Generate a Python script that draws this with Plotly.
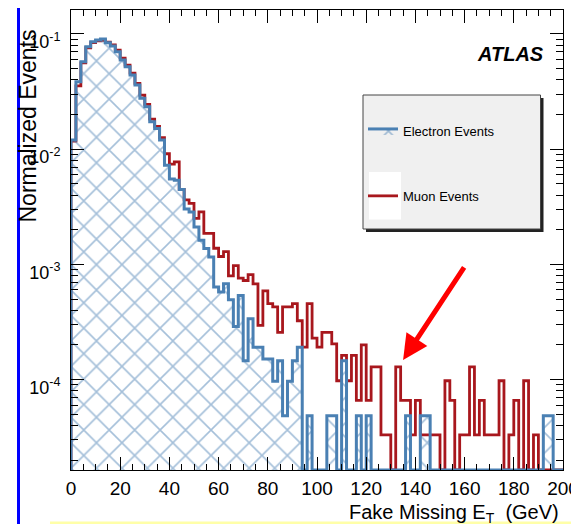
import numpy as np
import plotly.graph_objects as go

# ---------------- data ----------------
bin_width = 2.0          # GeV
x_start = 0.0

electron_events = [
    0.0120, 0.0385, 0.0575, 0.0776, 0.0857, 0.0887, 0.0906, 0.0841, 0.0787, 0.0702,
    0.0594, 0.0520, 0.0440, 0.0361, 0.0276, 0.0233, 0.0173, 0.0151, 0.0120, 0.00724,
    0.00550, 0.00537, 0.00447, 0.00302, 0.00285, 0.00211, 0.00162, 0.00137, 0.00116, 0.000635,
    0.000575, 0.000679, 0.000493, 0.000289, 0.000537, 0.000146, 0.000337, 0.000191, 0.000191, 0.000151,
    0.000151, 0.0000966, 0.000146, 0.0000486, 0.0000966, 0.000146, 0.000191, 0, 0.0000486, 0,
    0, 0, 0.0000486, 0.0000486, 0, 0.000146, 0, 0, 0.0000486, 0,
    0.0000486, 0, 0, 0, 0, 0, 0, 0, 0.0000486, 0,
    0, 0.0000486, 0.0000486, 0, 0, 0, 0, 0, 0, 0,
    0, 0, 0, 0, 0, 0, 0, 0, 0, 0,
    0, 0, 0, 0, 0, 0, 0.0000486, 0.0000486, 0, 0,
]

muon_events = [
    0.01175, 0.0355, 0.0562, 0.0759, 0.0841, 0.0871, 0.0881, 0.0851, 0.0804, 0.0724,
    0.0617, 0.0537, 0.0457, 0.0372, 0.0295, 0.0245, 0.0182, 0.0158, 0.0126, 0.00912,
    0.00741, 0.00776, 0.00447, 0.00363, 0.00339, 0.00251, 0.00285, 0.00186, 0.00186, 0.00138,
    0.00117, 0.00129, 0.000794, 0.000977, 0.000759, 0.000724, 0.000813, 0.000676, 0.000295, 0.000589,
    0.000457, 0.000427, 0.000257, 0.000427, 0.000427, 0.000457, 0.000324, 0.000191, 0.000457, 0.000229,
    0.000191, 0.000257, 0.000257, 0.000204, 0.0000977, 0.000162, 0.0000977, 0.000162, 0.0000661, 0.000200,
    0.0000661, 0.000129, 0.000129, 0.0000331, 0.0000331, 0, 0.000129, 0.0000661, 0.0000661, 0.0000331,
    0.0000661, 0.0000331, 0.0000331, 0.0000331, 0.0000331, 0, 0.0000977, 0.0000661, 0, 0.0000331,
    0.0000331, 0.000129, 0.0000331, 0.0000661, 0.0000331, 0.0000331, 0.0000331, 0.0000977, 0, 0.0000331,
    0.0000661, 0, 0.0000977, 0, 0.0000331, 0, 0, 0, 0, 0,
]

x_tick_step = 20
y_tick_vals = [1e-4, 1e-3, 1e-2, 1e-1]
y_tick_text = ["10<sup>-4</sup>", "10<sup>-3</sup>", "10<sup>-2</sup>", "10<sup>-1</sup>"]

# ---------------- layout geometry ----------------
# The HTML page places the figure 8 px from the top-left corner (body margin),
# so the figure is made 8 px smaller and margins are compensated.
PAGE_W, PAGE_H = 579, 524
OFF = 8
FIG_W, FIG_H = PAGE_W - OFF, PAGE_H - OFF
PLOT_L, PLOT_R, PLOT_T, PLOT_B = 71, 563, 10, 470     # page pixels
M_L, M_R, M_T, M_B = PLOT_L - OFF, PAGE_W - PLOT_R, PLOT_T - OFF, PAGE_H - PLOT_B
PW, PH = PLOT_R - PLOT_L, PLOT_B - PLOT_T
Y_RANGE = [-4.785, -0.792]
X_RANGE = [0, 200]


def px_x(px):
    return (px - PLOT_L) / PW


def px_y(py):
    return (PLOT_B - py) / PH


FLOOR = 10 ** Y_RANGE[0]


def step_path(vals):
    vals = np.asarray(vals, dtype=float)
    edges = x_start + bin_width * np.arange(len(vals) + 1)
    v = np.where(vals > 0, vals, FLOOR)
    xs = [edges[0]] + list(edges[:-1]) + [edges[-1], edges[-1]]
    ys = [FLOOR] + list(v) + [v[-1], FLOOR]
    return xs, ys


FONT = "Liberation Sans, Arial, Helvetica, sans-serif"
BLUE = "#4a80b3"
RED = "#a8171d"

fig = go.Figure()

mx, my = step_path(muon_events)
fig.add_trace(go.Scatter(
    x=mx, y=my, mode="lines", name="Muon Events",
    line=dict(color=RED, width=2.8, shape="hv"),
    legendgroup="mu", legendrank=2, hoverinfo="skip",
))

ex, ey = step_path(electron_events)
fig.add_trace(go.Scatter(
    x=ex, y=ey, mode="lines", name="Electron Events",
    line=dict(color=BLUE, width=3, shape="hv"),
    fill="toself", fillcolor="rgba(0,0,0,0)",
    fillpattern=dict(shape="x", fgcolor=BLUE, bgcolor="rgba(0,0,0,0)",
                     size=18, solidity=0.17),
    legendgroup="el", legendrank=1, hoverinfo="skip",
))

minor_vals = [m * 10.0 ** e for e in range(-5, 0) for m in range(2, 10)]

fig.update_xaxes(
    range=X_RANGE, tick0=0, dtick=x_tick_step, automargin=False,
    ticks="inside", ticklen=13, tickwidth=1, tickcolor="black",
    minor=dict(dtick=5, ticks="inside", ticklen=6, tickwidth=1, tickcolor="black"),
    showline=True, linecolor="black", linewidth=1, mirror="ticks",
    showgrid=False, zeroline=False,
    tickfont=dict(family=FONT, size=19, color="black"),
    ticklabelstandoff=1,
)
fig.update_yaxes(
    type="log", range=Y_RANGE, automargin=False,
    tickvals=y_tick_vals, ticktext=y_tick_text,
    ticks="inside", ticklen=13, tickwidth=1, tickcolor="black",
    minor=dict(tickvals=minor_vals, ticks="inside", ticklen=7, tickwidth=1, tickcolor="black"),
    showline=True, linecolor="black", linewidth=1, mirror="ticks",
    showgrid=False, zeroline=False,
    tickfont=dict(family=FONT, size=18, color="black"),
    ticklabelstandoff=6, ticklabelshift=8,
)

shapes = [
    # blue slide bar on the left
    dict(type="rect", xref="paper", yref="paper",
         x0=px_x(17), x1=px_x(20), y0=px_y(OFF), y1=px_y(PAGE_H),
         fillcolor="#0000ff", line=dict(width=0), layer="above"),
    # yellow strip at the bottom
    dict(type="rect", xref="paper", yref="paper",
         x0=px_x(50), x1=px_x(PAGE_W), y0=px_y(521.5), y1=px_y(PAGE_H),
         fillcolor="#ffffa8", line=dict(width=0), layer="above"),
    # legend shadow
    dict(type="rect", xref="paper", yref="paper",
         x0=px_x(366), x1=px_x(543.5), y0=px_y(232), y1=px_y(98),
         fillcolor="#222222", line=dict(width=0), layer="above"),
    # legend box
    dict(type="rect", xref="paper", yref="paper",
         x0=px_x(363), x1=px_x(540.5), y0=px_y(229), y1=px_y(95),
         fillcolor="#f0f0f0", line=dict(color="#444444", width=1), layer="above"),
    # white swatch behind muon legend line
    dict(type="rect", xref="paper", yref="paper",
         x0=px_x(369), x1=px_x(401), y0=px_y(219.5), y1=px_y(172),
         fillcolor="white", line=dict(width=0), layer="above"),
]

annotations = [
    dict(text="Normalized Events", textangle=-90, xref="paper", yref="paper",
         x=px_x(27.5), y=px_y(126), xanchor="center", yanchor="middle",
         showarrow=False, font=dict(family=FONT, size=23, color="black")),
    dict(text="Fake Missing E<sub>T</sub>  (GeV)", xref="paper", yref="paper",
         x=px_x(561), y=px_y(513), xanchor="right", yanchor="middle",
         showarrow=False, font=dict(family=FONT, size=20, color="black")),
    dict(text="<b><i>ATLAS</i></b>", xref="paper", yref="paper",
         x=px_x(510), y=px_y(54), xanchor="center", yanchor="middle",
         showarrow=False, font=dict(family=FONT, size=20, color="black")),
    dict(text="", x=135, y=-3.83, xref="x", yref="y",
         showarrow=True, arrowhead=2, arrowsize=1, arrowwidth=5,
         arrowcolor="#ff0000", ax=62, ay=-94, axref="pixel", ayref="pixel",
         standoff=0),
]

fig.update_layout(
    width=FIG_W, height=FIG_H,
    margin=dict(l=M_L, r=M_R, t=M_T, b=M_B, pad=0, autoexpand=False),
    paper_bgcolor="white", plot_bgcolor="white",
    showlegend=True,
    legend=dict(x=px_x(363), y=px_y(116), xanchor="left", yanchor="top",
                bgcolor="rgba(0,0,0,0)", borderwidth=0,
                font=dict(family=FONT, size=13, color="black"),
                traceorder="grouped", tracegroupgap=45),
    shapes=shapes,
    annotations=annotations,
    font=dict(family=FONT),
)

fig.write_html("out.html")
